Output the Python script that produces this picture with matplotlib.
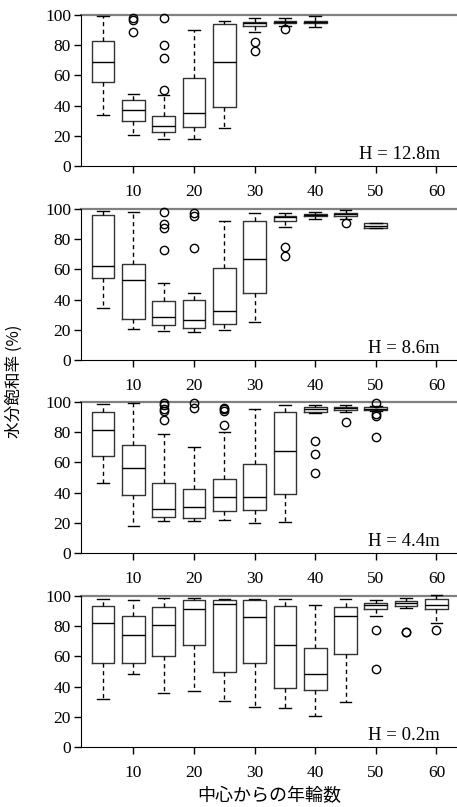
import numpy as np
import matplotlib
matplotlib.use("Agg")
import matplotlib.pyplot as plt

plt.rcParams['font.family'] = ['Liberation Serif', 'DejaVu Serif']

positions = [5, 10, 15, 20, 25, 30, 35, 40, 45, 50, 55, 60]
labels = ["H = 12.8m", "H = 8.6m", "H = 4.4m", "H = 0.2m"]
xticks = [10, 20, 30, 40, 50, 60]
yticks = [0, 20, 40, 60, 80, 100]

# H = 12.8m
lo_128 = [33.8, 20.5, 18.1, 18.1, 25.4, 88.5, 92.7, 92.3]
q1_128 = [55.6, 29.6, 22.7, 25.8, 39.0, 92.7, 94.5, 94.5]
md_128 = [68.9, 37.0, 26.7, 34.9, 68.9, 94.5, 95.1, 95.4]
q3_128 = [83.0, 43.9, 33.3, 58.0, 94.3, 95.6, 95.8, 96.2]
hi_128 = [99.3, 47.9, 47.0, 90.0, 96.2, 97.8, 97.8, 99.6]
fl_128 = [[], [97.8, 97.0, 88.5], [98.2, 80.1, 71.3, 50.3], [], [],
          [82.1, 76.4], [90.5], []]

# H = 8.6m
lo_86 = [34.2, 20.5, 19.0, 18.5, 20.1, 24.9, 88.3, 93.4, 93.6, 87.4]
q1_86 = [54.1, 27.4, 23.0, 21.0, 23.8, 44.4, 91.8, 95.1, 95.4, 87.4]
md_86 = [62.5, 52.8, 28.5, 26.3, 32.7, 66.7, 94.5, 96.0, 96.5, 88.5]
q3_86 = [96.2, 63.6, 39.1, 40.0, 60.7, 92.3, 95.6, 96.9, 97.4, 90.5]
hi_86 = [98.5, 98.2, 51.2, 44.4, 92.3, 97.6, 97.1, 97.8, 99.3, 90.5]
fl_86 = [[], [], [97.8, 90.0, 87.4, 73.1], [97.1, 95.6, 74.2], [], [],
         [75.0, 68.9], [], [90.5], []]

# H = 4.4m
lo_44 = [46.6, 17.7, 21.2, 21.2, 21.9, 20.1, 20.5, 92.5, 93.2, 94.0]
q1_44 = [64.2, 38.6, 23.8, 23.2, 28.0, 28.5, 39.1, 93.6, 94.7, 94.9]
md_44 = [81.2, 56.1, 29.1, 30.2, 36.9, 37.1, 67.3, 95.6, 95.8, 95.6]
q3_44 = [93.2, 71.5, 46.6, 42.4, 49.2, 58.7, 93.4, 96.5, 96.7, 96.5]
hi_44 = [98.5, 99.1, 78.8, 70.0, 79.9, 95.4, 97.8, 97.8, 98.0, 97.5]
fl_44 = [[], [], [99.3, 97.8, 95.6, 93.8, 87.9], [99.1, 96.0],
         [96.2, 95.1, 94.0, 85.0], [], [], [74.0, 65.3, 53.2], [87.0],
         [99.3, 92.3, 90.8, 76.8]]

# H = 0.2m
lo_02 = [31.6, 48.6, 35.6, 36.9, 30.5, 26.4, 25.7, 20.4, 29.7, 86.6, 92.1, 82.0]
q1_02 = [55.4, 55.4, 60.0, 67.5, 49.7, 55.4, 38.9, 37.6, 61.3, 91.4, 93.6, 91.4]
md_02 = [82.4, 74.5, 80.9, 91.4, 94.5, 86.2, 67.7, 48.6, 87.0, 93.8, 95.6, 94.1]
q3_02 = [93.4, 87.0, 93.0, 97.4, 97.1, 97.1, 93.4, 65.7, 93.0, 95.6, 96.5, 98.0]
hi_02 = [98.2, 97.6, 98.9, 98.9, 98.2, 98.2, 97.8, 94.1, 98.0, 97.6, 98.9, 100.7]
fl_02 = [[], [], [], [], [], [], [], [], [], [77.6, 51.6], [76.3, 75.9], [77.8]]

panels = [
    (lo_128, q1_128, md_128, q3_128, hi_128, fl_128),
    (lo_86, q1_86, md_86, q3_86, hi_86, fl_86),
    (lo_44, q1_44, md_44, q3_44, hi_44, fl_44),
    (lo_02, q1_02, md_02, q3_02, hi_02, fl_02),
]

fig = plt.figure(figsize=(4.57, 8.07), dpi=100)
bottoms = [0.7943, 0.5539, 0.3147, 0.0743]
left, width, height = 0.1766, 0.8234, 0.1871

for k, (lo, q1, md, q3, hi, fl) in enumerate(panels):
    ax = fig.add_axes([left, bottoms[k], width, height])
    stats = []
    for i in range(len(md)):
        stats.append(dict(whislo=lo[i], q1=q1[i], med=md[i], q3=q3[i],
                          whishi=hi[i], fliers=fl[i]))
    n = len(stats)
    arts = ax.bxp(stats, positions=positions[:n], widths=3.75,
                  capwidths=1.9, manage_ticks=False,
                  boxprops=dict(color='#333333', lw=1.0),
                  medianprops=dict(color='black', lw=1.0),
                  whiskerprops=dict(color='black', lw=1.0, linestyle=(0, (3, 2.5))),
                  capprops=dict(color='black', lw=1.0),
                  flierprops=dict(marker='o', mfc='none', mec='black', ms=6, mew=1.0))
    for key in arts:
        for a in arts[key]:
            a.set_clip_on(False)
    ax.axhline(100, color='#808080', lw=1.6, clip_on=False, zorder=0)
    ax.set_xlim(1.3, 63.4)
    ax.set_ylim(0, 100)
    ax.set_xticks(xticks)
    ax.set_yticks(yticks)
    ax.spines['top'].set_visible(False)
    ax.spines['right'].set_visible(False)
    ax.tick_params(axis='both', direction='out', length=5, width=1, labelsize=12.5)
    ax.tick_params(axis='x', pad=8)
    ax.tick_params(axis='y', pad=2)
    ax.text(0.955, 0.045, labels[k], transform=ax.transAxes, ha='right',
            va='baseline', fontsize=13.5)

fig.text(0.0306, 1 - 381 / 807, "水分飽和率 (%)", rotation=90, ha='center',
         va='center', fontsize=12, family=['Noto Sans CJK JP', 'DejaVu Sans'])
fig.text(268.9 / 457, 1 - 796 / 807, "中心からの年輪数", ha='center',
         va='center', fontsize=13, family=['Noto Sans CJK JP', 'DejaVu Sans'])

fig.savefig("out.png", dpi=100)
